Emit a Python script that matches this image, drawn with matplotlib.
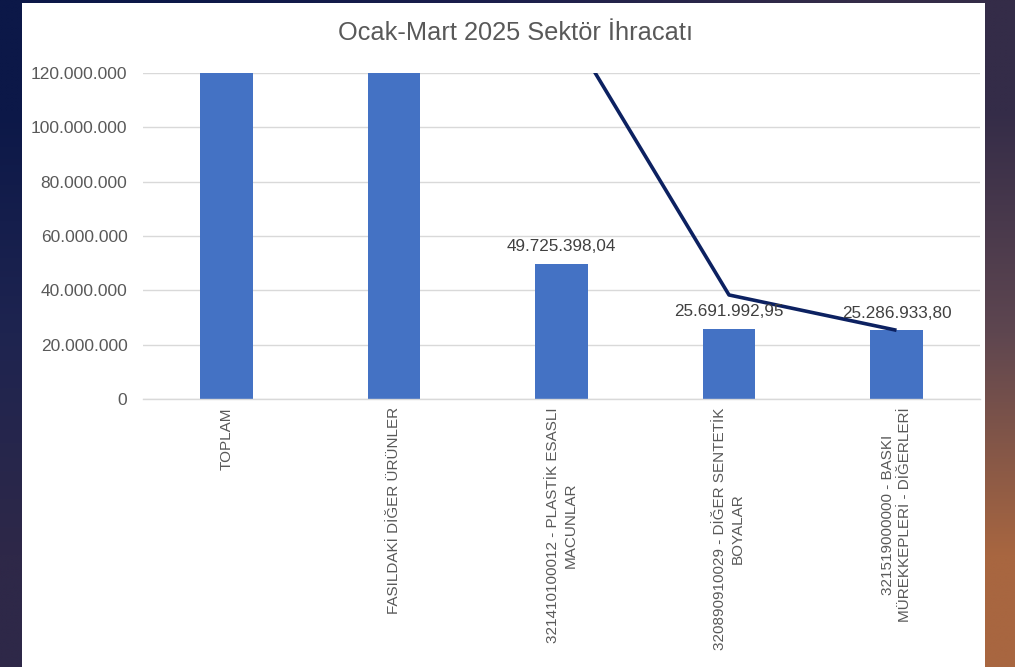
#!/usr/bin/env python3

import numpy as np
import matplotlib
matplotlib.use('Agg')
import matplotlib.pyplot as plt
from matplotlib.patches import Rectangle
from matplotlib.ticker import FuncFormatter, MultipleLocator
from matplotlib.colors import to_rgb

# data (bars 1-2 and line 1-3 run off the top, values estimated)
categories = [
    'TOPLAM',
    'FASILDAKİ DİĞER ÜRÜNLER',
    '321410100012 - PLASTİK ESASLI\nMACUNLAR',
    '320890910029 - DİĞER SENTETİK\nBOYALAR',
    '321519000000 - BASKI\nMÜREKKEPLERİ - DİĞERLERİ',
]
bar_values = [520_000_000, 370_000_000, 49_725_398.04, 25_691_992.95, 25_286_933.80]
line_values = [560_000_000, 390_000_000, 140_600_000, 38_300_000, 25_300_000]
title = 'Ocak-Mart 2025 Sektör İhracatı'

W, H, DPI = 1015, 667, 100
GRAY = '#595959'
plt.rcParams['font.family'] = ['Liberation Sans', 'DejaVu Sans']


def tr_num(v, decimals=0):
    s = f'{v:,.{decimals}f}'
    return s.replace(',', '_').replace('.', ',').replace('_', '.')


def background(fig):
    # dark slide background behind the chart
    bg = fig.add_axes([0, 0, 1, 1], zorder=-10)
    corners = [['#0c1848', '#1c1f4c', '#342c48'],
               ['#1e2450', '#3a3050', '#5e4650'],
               ['#2e2848', '#6a4a48', '#a86640']]
    img = np.array([[to_rgb(c) for c in row] for row in corners])
    bg.imshow(img, aspect='auto', interpolation='bilinear', extent=[0, 1, 0, 1])
    bg.set_xlim(0, 1)
    bg.set_ylim(0, 1)
    bg.axis('off')
    fig.patches.append(Rectangle((22 / W, 0), (985 - 22) / W, 1 - 3 / H,
                                 transform=fig.transFigure, facecolor='white',
                                 edgecolor='none', zorder=-5))


def plot():
    fig = plt.figure(figsize=(W / DPI, H / DPI), dpi=DPI)
    background(fig)

    ax = fig.add_axes([142.75 / W, 1 - 399 / H, 837.5 / W, (399 - 73) / H])
    ax.patch.set_alpha(0)
    x = np.arange(len(categories))
    ax.bar(x, bar_values, width=0.316, color='#4472c4', zorder=2)
    ax.plot(x, line_values, color='#0c2161', linewidth=2.6, zorder=3,
            solid_joinstyle='round', solid_capstyle='butt')

    ymax = 120_000_000
    ax.set_ylim(0, ymax)
    ax.set_xlim(-0.5, len(categories) - 0.5)
    for xi, v in zip(x, bar_values):
        if v <= ymax:
            ax.annotate(tr_num(v, 2), (xi, v), xytext=(0, 7), textcoords='offset points',
                        ha='center', va='bottom', fontsize=12.3, color='#404040', zorder=4)

    ax.yaxis.set_major_locator(MultipleLocator(20_000_000))
    ax.yaxis.set_major_formatter(FuncFormatter(lambda v, p: tr_num(v)))
    ax.grid(axis='y', color='#d9d9d9', linewidth=1.0, zorder=0)
    ax.set_axisbelow(True)
    for s in ['top', 'right', 'left']:
        ax.spines[s].set_visible(False)
    ax.spines['bottom'].set_color('#d9d9d9')
    ax.spines['bottom'].set_linewidth(1.0)

    ax.set_xticks(x)
    ax.set_xticklabels(categories, rotation=90, fontsize=11, color=GRAY,
                       linespacing=1.35, multialignment='center')
    ax.tick_params(axis='x', length=0, pad=6)
    ax.tick_params(axis='y', length=0, pad=11, labelsize=12.5, labelcolor=GRAY)

    fig.text(516 / W, 1 - 33 / H, title, ha='center', va='center',
             fontsize=18.3, color=GRAY)

    fig.savefig('out.png', dpi=DPI)


if __name__ == '__main__':
    plot()
